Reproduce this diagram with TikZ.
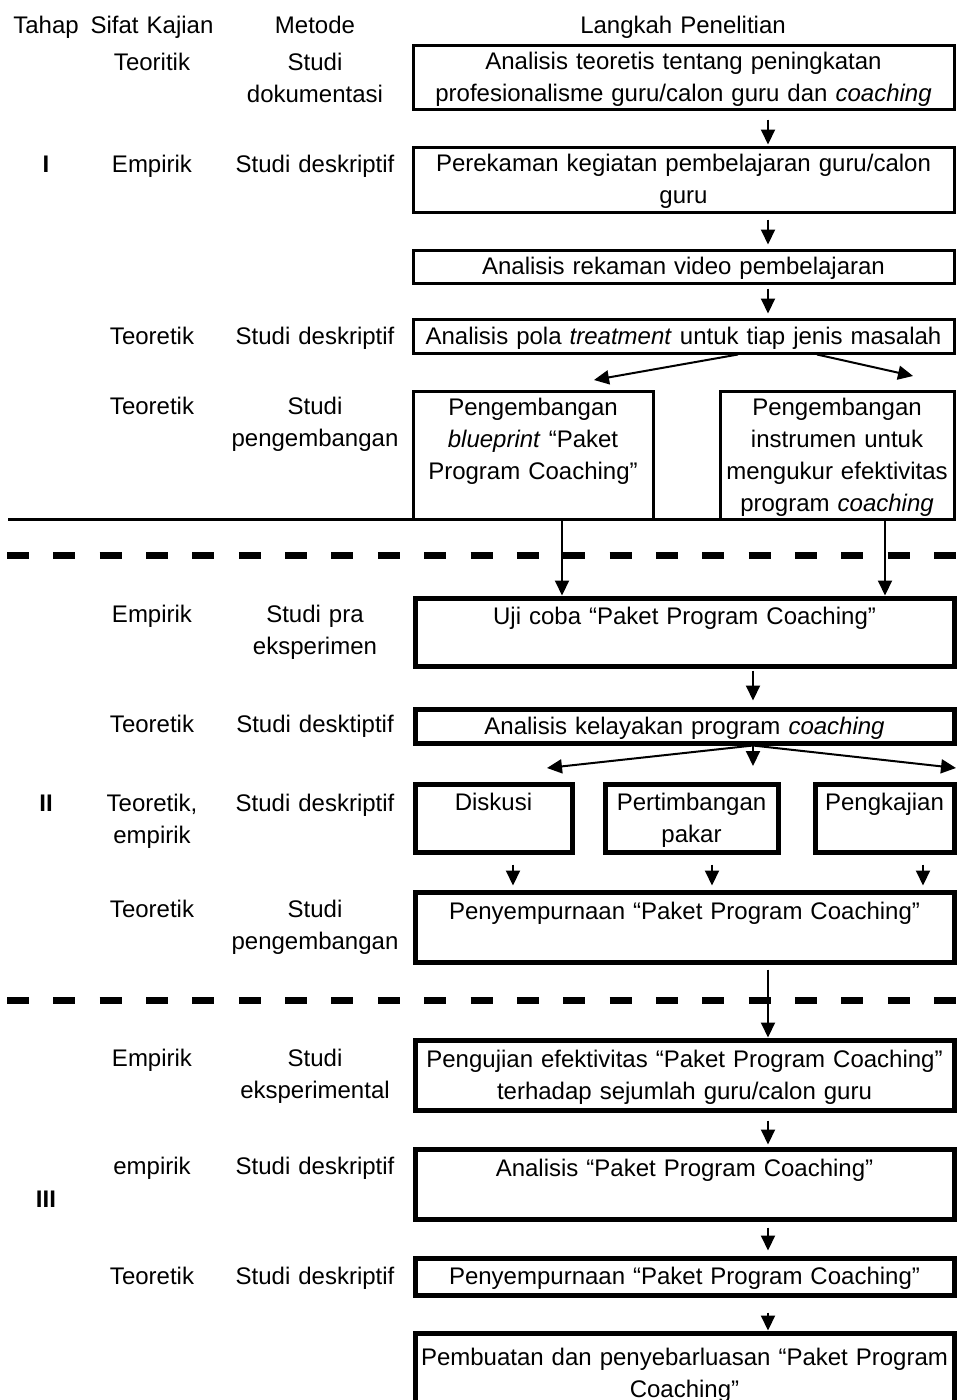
\documentclass[tikz,border=0pt]{standalone}
\usepackage{fontspec}
\setmainfont{Liberation Sans}
\usetikzlibrary{arrows.meta}
\newcommand\tsup{\rule{0pt}{21.5pt}}
\newcommand\tsdn{\rule[-5.5pt]{0pt}{5.5pt}}
\newcommand\fs{\fontsize{24}{32}\selectfont}
\begin{document}
\begin{tikzpicture}[x=1pt,y=-1pt,
 box/.style={draw, line width=3pt, anchor=north west, inner xsep=2pt, inner ysep=1pt,
   align=center, font=\fs, execute at begin node=\tsup, execute at end node=\tsdn},
 tbox/.style={box, line width=5pt},
 lbl/.style={anchor=north, inner sep=0pt, align=center, font=\fs, text width=180pt,
   execute at begin node=\tsup},
 arr/.style={line width=2pt, -{Triangle[length=15pt,width=14pt]}},
 sepline/.style={line width=7pt, dash pattern=on 22pt off 24.35pt},
]
\useasboundingbox (0,0) rectangle (956,1400);

% headers
\node[lbl, text width=80pt] (hT) at (46,11.5) {Tahap};
\node[lbl, text width=140pt] (hS) at (152,11.5) {Sifat Kajian};
\node[lbl] (hM) at (315,11.5) {Metode};
\node[lbl, text width=300pt] (hL) at (683,11.5) {Langkah Penelitian};

% stages
\node[lbl, text width=80pt, font=\fs\bfseries] (sI) at (46,150.5) {I};
\node[lbl, text width=80pt, font=\fs\bfseries] (sII) at (46,789.5) {II};
\node[lbl, text width=80pt, font=\fs\bfseries] (sIII) at (46,1185.5) {III};

% Sifat kajian column
\node[lbl, text width=140pt] (s1) at (152,48.5) {Teoritik};
\node[lbl, text width=140pt] (s2) at (152,150.5) {Empirik};
\node[lbl, text width=140pt] (s3) at (152,322.5) {Teoretik};
\node[lbl, text width=140pt] (s4) at (152,392.5) {Teoretik};
\node[lbl, text width=140pt] (s5) at (152,600.5) {Empirik};
\node[lbl, text width=140pt] (s6) at (152,710.5) {Teoretik};
\node[lbl, text width=140pt] (s7) at (152,789.5) {Teoretik,\\ empirik};
\node[lbl, text width=140pt] (s8) at (152,895.5) {Teoretik};
\node[lbl, text width=140pt] (s9) at (152,1044.5) {Empirik};
\node[lbl, text width=140pt] (s10) at (152,1152.5) {empirik};
\node[lbl, text width=140pt] (s11) at (152,1262.5) {Teoretik};

% Metode column
\node[lbl] (m1) at (315,48.5) {Studi\\ dokumentasi};
\node[lbl] (m2) at (315,150.5) {Studi deskriptif};
\node[lbl] (m3) at (315,322.5) {Studi deskriptif};
\node[lbl] (m4) at (315,392.5) {Studi\\ pengembangan};
\node[lbl] (m5) at (315,600.5) {Studi pra\\ eksperimen};
\node[lbl] (m6) at (315,710.5) {Studi desktiptif};
\node[lbl] (m7) at (315,789.5) {Studi deskriptif};
\node[lbl] (m8) at (315,895.5) {Studi\\ pengembangan};
\node[lbl] (m9) at (315,1044.5) {Studi\\ eksperimental};
\node[lbl] (m10) at (315,1152.5) {Studi deskriptif};
\node[lbl] (m11) at (315,1262.5) {Studi deskriptif};

% stage I boxes (thin)
\node[box, minimum width=541pt, text width=537pt, minimum height=64pt] (b1) at (411.5,43.5)
  {Analisis teoretis tentang peningkatan\\ profesionalisme guru/calon guru dan \textit{coaching}};
\node[box, minimum width=541pt, text width=537pt, minimum height=65pt] (b2) at (411.5,145.5)
  {Perekaman kegiatan pembelajaran guru/calon\\ guru};
\node[box, minimum width=541pt, text width=537pt, minimum height=33pt] (b3) at (411.5,248.5)
  {Analisis rekaman video pembelajaran};
\node[box, minimum width=541pt, text width=537pt, minimum height=34pt] (b4) at (411.5,317.5)
  {Analisis pola \textit{treatment} untuk tiap jenis masalah};
\node[box, minimum width=240pt, text width=236pt, minimum height=128pt] (b5a) at (411.5,389.5)
  {Pengembangan\\ \textit{blueprint} “Paket\\ Program Coaching”\\};
\node[box, minimum width=234pt, text width=230pt, minimum height=128pt] (b5b) at (718.5,389.5)
  {Pengembangan\\ instrumen untuk\\ mengukur efektivitas\\ program \textit{coaching}};

% stage II boxes (thick)
\node[tbox, minimum width=539pt, text width=535pt, minimum height=68pt] (b6) at (412.5,595.5)
  {Uji coba “Paket Program Coaching”\\};
\node[tbox, minimum width=539pt, text width=535pt, minimum height=34pt] (b7) at (412.5,706.5)
  {Analisis kelayakan program \textit{coaching}};
\node[tbox, minimum width=157pt, text width=153pt, minimum height=68pt] (d1) at (412.5,781.5)
  {Diskusi\\};
\node[tbox, minimum width=173pt, text width=169pt, minimum height=68pt] (d2) at (602.5,781.5)
  {Pertimbangan\\ pakar};
\node[tbox, minimum width=139pt, text width=135pt, minimum height=68pt] (d3) at (812.5,781.5)
  {Pengkajian\\};
\node[tbox, minimum width=539pt, text width=535pt, minimum height=70pt] (b8) at (412.5,889.5)
  {Penyempurnaan “Paket Program Coaching”\\};

% stage III boxes (thick)
\node[tbox, minimum width=539pt, text width=535pt, minimum height=70pt] (b9) at (412.5,1037.5)
  {Pengujian efektivitas “Paket Program Coaching”\\ terhadap sejumlah guru/calon guru};
\node[tbox, minimum width=539pt, text width=535pt, minimum height=70pt] (b10) at (412.5,1146.5)
  {Analisis “Paket Program Coaching”\\};
\node[tbox, minimum width=539pt, text width=535pt, minimum height=37pt] (b11) at (412.5,1255.5)
  {Penyempurnaan “Paket Program Coaching”};
\node[tbox, minimum width=539pt, text width=535pt, minimum height=80pt] (b12) at (412.5,1330.5)
  {Pembuatan dan penyebarluasan “Paket Program\\ Coaching”};

% separators
\draw[line width=3pt] (8,519) -- (956,519);
\draw[sepline] (7,555) -- (960,555);
\draw[sepline] (7,1000) -- (960,1000);

% helper coordinates
\coordinate (xa) at (768,0);
\coordinate (xb) at (753,0);
\coordinate (xl) at (738,0);
\coordinate (xr) at (817,0);
\coordinate (x5a) at (562,0);
\coordinate (x5b) at (885,0);
\coordinate (xd1) at (513,0);
\coordinate (xd2) at (712,0);
\coordinate (xd3) at (923,0);
\coordinate (tl) at (594,380);
\coordinate (tr) at (913,376);
\coordinate (ul) at (547,768);
\coordinate (ud) at (753,766);
\coordinate (ur) at (956,768);

% connectors
\draw[arr, shorten <=9pt, shorten >=1pt] (b1.south -| xa) -- (b2.north -| xa);
\draw[arr, shorten <=6pt, shorten >=4pt] (b2.south -| xa) -- (b3.north -| xa);
\draw[arr, shorten <=4pt, shorten >=4pt] (b3.south -| xa) -- (b4.north -| xa);
\draw[arr] (b4.south -| xl) -- (tl);
\draw[arr] (b4.south -| xr) -- (tr);
\draw[arr] (b5a.south -| x5a) -- (b6.north -| x5a);
\draw[arr] (b5b.south -| x5b) -- (b6.north -| x5b);
\draw[arr, shorten <=2pt, shorten >=6pt] (b6.south -| xb) -- (b7.north -| xb);
\draw[arr] (b7.south -| xb) -- (ul);
\draw[arr] (b7.south -| xb) -- (ud);
\draw[arr] (b7.south -| xb) -- (ur);
\draw[arr, shorten <=10pt, shorten >=4pt] (d1.south -| xd1) -- (b8.north -| xd1);
\draw[arr, shorten <=10pt, shorten >=4pt] (d2.south -| xd2) -- (b8.north -| xd2);
\draw[arr, shorten <=10pt, shorten >=4pt] (d3.south -| xd3) -- (b8.north -| xd3);
\draw[arr, shorten <=5pt] (b8.south -| xa) -- (b9.north -| xa);
\draw[arr, shorten <=8pt, shorten >=2pt] (b9.south -| xa) -- (b10.north -| xa);
\draw[arr, shorten <=6pt, shorten >=5pt] (b10.south -| xa) -- (b11.north -| xa);
\draw[arr, shorten <=15pt] (b11.south -| xa) -- (b12.north -| xa);
\end{tikzpicture}
\end{document}
